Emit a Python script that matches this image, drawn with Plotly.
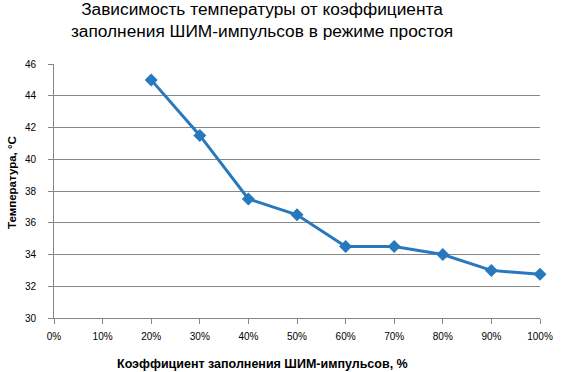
import plotly.graph_objects as go

duty = [20, 30, 40, 50, 60, 70, 80, 90, 100]
temps = [45, 41.5, 37.5, 36.5, 34.5, 34.5, 34, 33, 32.75]
x_ticks = list(range(0, 101, 10))
x_labels = [f"{v}%" for v in x_ticks]
y_ticks = list(range(30, 47, 2))

title_text = "Зависимость температуры от коэффициента<br>заполнения ШИМ-импульсов в режиме простоя"
x_title = "Коэффициент заполнения ШИМ-импульсов, %"
y_title = "Температура, °С"

FONT = "Liberation Sans, Arial"

fig = go.Figure()
fig.add_trace(go.Scatter(
    x=duty, y=temps, mode="lines+markers",
    line=dict(color="#2878BD", width=3),
    marker=dict(symbol="diamond", size=10, color="#2878BD"),
    showlegend=False,
    cliponaxis=False,
))

fig.update_layout(
    width=565, height=372,
    margin=dict(l=54, r=14, t=64, b=54),
    paper_bgcolor="white", plot_bgcolor="white",
    font=dict(family=FONT, color="#000000"),
    title=dict(text=title_text, x=262/565, xanchor="center", y=1 - 15/372, yanchor="middle",
               font=dict(size=17.3, family=FONT)),
    xaxis=dict(range=[0, 100], tickvals=x_ticks, ticktext=x_labels,
               showgrid=False, showline=True, linecolor="#868686", linewidth=1,
               ticks="outside", ticklen=5, tickcolor="#868686", ticklabelstandoff=4,
               tickfont=dict(size=10), zeroline=False),
    yaxis=dict(range=[30, 46], tickvals=y_ticks,
               showgrid=True, gridcolor="#868686", gridwidth=1,
               showline=True, linecolor="#868686", linewidth=1,
               ticks="outside", ticklen=5, tickcolor="#868686", ticklabelstandoff=10,
               tickfont=dict(size=10), zeroline=False),
    annotations=[
        dict(text=f"<b>{x_title}</b>", xref="paper", yref="paper",
             x=(267-54)/497, y=-(364-318)/254, xanchor="center", yanchor="middle",
             showarrow=False, font=dict(size=12.5, family=FONT)),
        dict(text=f"<b>{y_title}</b>", xref="paper", yref="paper",
             x=-(54-11)/497, y=(318-182)/254, xanchor="center", yanchor="middle",
             textangle=-90, showarrow=False, font=dict(size=11.5, family=FONT)),
    ],
)

fig.write_html("out.html", config={"displayModeBar": False},
               post_script="document.body.style.margin='0';")
